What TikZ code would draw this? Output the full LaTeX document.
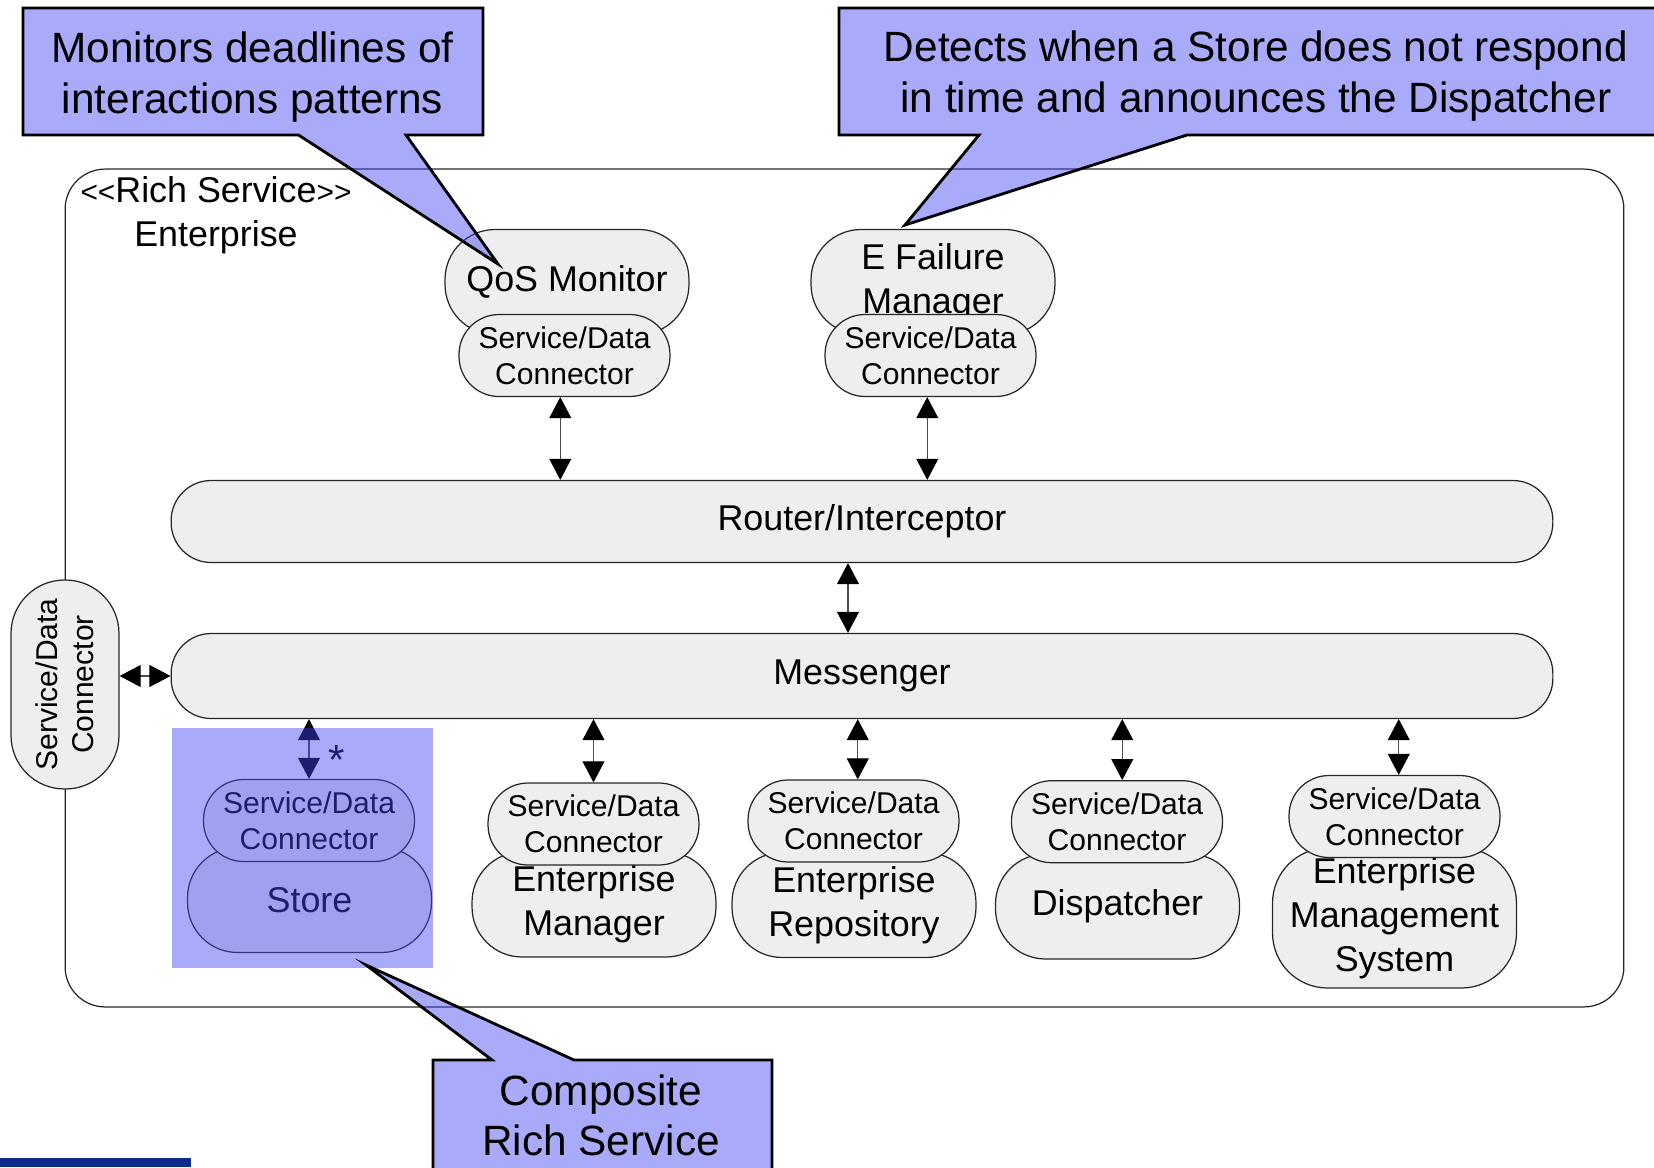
\documentclass[tikz,border=0pt]{standalone}
\usepackage{fontspec}
\setmainfont{Liberation Sans}
\usetikzlibrary{arrows.meta}
\definecolor{boxgrey}{RGB}{238,238,238}
\definecolor{callblue}{RGB}{67,67,244}
\definecolor{barblue}{RGB}{16,42,140}
\begin{document}
\begin{tikzpicture}[x=0.02cm,y=-0.02cm,
  mainfont/.style={font=\fontsize{20.4pt}{25pt}\selectfont},
  confont/.style={font=\fontsize{17.1pt}{20.3pt}\selectfont},
  part/.style={draw=black!85, line width=0.7pt, fill=boxgrey, rectangle,
    inner sep=0pt, align=center, mainfont},
  body/.style={part, minimum width=4.88cm, minimum height=2.1cm, rounded corners=1cm},
  sdc/.style={part, minimum width=4.22cm, minimum height=1.64cm, rounded corners=0.8cm, confont},
  bus/.style={part, minimum width=27.64cm, minimum height=1.64cm, rounded corners=0.8cm},
  link/.style={draw=black!70, line width=0.6pt,
    {Triangle[width=12.5pt,length=12pt,color=black]}-{Triangle[width=12.5pt,length=12pt,color=black]}},
  tint/.style={fill=callblue, fill opacity=0.45},
  callout/.style={draw=black, line width=1.6pt, tint, line join=miter},
  calltext/.style={font=\fontsize{24.1pt}{28.6pt}\selectfont, align=center, inner sep=0pt}
]
\useasboundingbox (0,0) rectangle (1654,1167);

% enclosing rich service
\node[draw=black!85, line width=0.7pt, rounded corners=0.8cm, minimum width=31.18cm,
  minimum height=16.76cm, inner sep=0pt] (enterprise) at (844.5,588) {};
\node[align=center, mainfont, inner sep=0pt] (title) at (216,215)
  {{\fontsize{17pt}{17pt}\selectfont<\kern0pt<}Rich Service{\fontsize{17pt}{17pt}\selectfont>\kern0pt>}\\Enterprise};

% infrastructure services
\node[body] (qos) at (567,282) {QoS Monitor};
\node[sdc] (qoscon) at (564.5,355.5) {Service/Data\\Connector};
\node[body] (efm) at (933,282) {E Failure\\Manager};
\node[sdc] (efmcon) at (930.5,355.5) {Service/Data\\Connector};

% buses
\node[bus] (router) at (862,521.5) {Router/Interceptor};
\node[bus, minimum height=1.7cm] (messenger) at (862,676) {Messenger};

% external connector
\node[part, confont, rotate=90, minimum width=4.18cm, minimum height=2.16cm,
  rounded corners=1.07cm] (leftcon) at (65,684.5) {Service/Data\\Connector};

% application services
\node[body] (store) at (309.5,900) {Store};
\node[sdc] (storecon) at (309,820.5) {Service/Data\\Connector};
\node[body] (em) at (594,904.5) {Enterprise\\Manager};
\node[sdc] (emcon) at (593.5,824) {Service/Data\\Connector};
\node[body] (er) at (854,905) {Enterprise\\Repository};
\node[sdc] (ercon) at (853.5,821) {Service/Data\\Connector};
\node[body] (disp) at (1117.5,906.5) {Dispatcher};
\node[sdc] (dispcon) at (1117,821.7) {Service/Data\\Connector};
\node[body, minimum height=2.8cm, rounded corners=1.1cm] (ems) at (1394.5,918)
  {Enterprise\\Management\\System};
\node[sdc] (emscon) at (1394.5,816.5) {Service/Data\\Connector};

% connections
\draw[link] ([xshift=-0.085cm]qoscon.south) -- ([xshift=-0.085cm]qoscon.south |- router.north);
\draw[link] ([xshift=-0.065cm]efmcon.south) -- ([xshift=-0.065cm]efmcon.south |- router.north);
\draw[link] ([xshift=-0.28cm]router.south) -- ([xshift=-0.28cm]messenger.north);
\draw[link] (leftcon.south |- messenger.west) -- (messenger.west);
\draw[link] (messenger.south -| storecon.north) -- (storecon.north);
\draw[link] (messenger.south -| emcon.north) -- (emcon.north);
\draw[link] ([xshift=0.085cm]messenger.south -| ercon.north) -- ([xshift=0.085cm]ercon.north);
\draw[link] ([xshift=0.105cm]messenger.south -| dispcon.north) -- ([xshift=0.105cm]dispcon.north);
\draw[link] ([xshift=0.085cm]messenger.south -| emscon.north) -- ([xshift=0.085cm]emscon.north);
\node[font=\fontsize{24pt}{24pt}\selectfont, inner sep=0pt] (mult) at (337,760) {*};

% composite highlight
\node[tint, minimum width=5.22cm, minimum height=4.8cm, inner sep=0pt]
  (composite) at (302.5,848) {};

% notes
\draw[callout] (23,8) -- (483,8) -- (483,135) -- (406,135) -- (498,264)
  -- (298.5,135) -- (23,135) -- cycle;
\node[calltext] (note1) at (252.6,77) {Monitors deadlines of\\interactions patterns};

\draw[callout] (839,8) -- (1680,8) -- (1680,135) -- (1187,135) -- (905,225)
  -- (979,135) -- (839,135) -- cycle;
\node[calltext] (note2) at (1255.8,76)
  {Detects when a Store does not respond\\in time and announces the Dispatcher};

\draw[callout] (433,1060) -- (492,1060) -- (366,965) -- (574,1060) -- (772,1060)
  -- (772,1190) -- (433,1190) -- cycle;
\node[calltext] (note3) at (601,1115.5) {Composite\\Rich Service};

\fill[barblue] (0,1158) rectangle (191,1167);
\end{tikzpicture}
\end{document}
